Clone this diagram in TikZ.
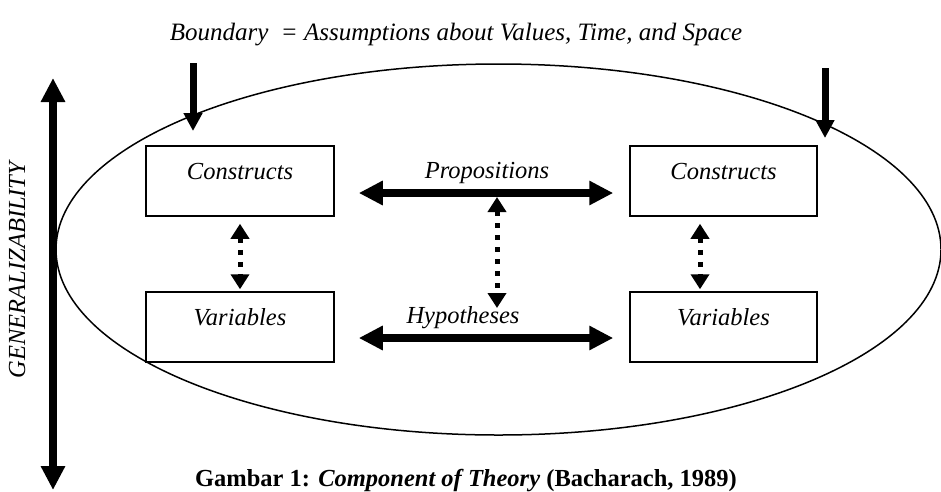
\documentclass[tikz,border=0pt]{standalone}
\usepackage{fontspec}
\setmainfont{Liberation Serif}
\usetikzlibrary{arrows.meta,calc}
\begin{document}
\begin{tikzpicture}[x=1pt,y=-1pt,
  every node/.style={font=\fontsize{24.5}{29}\selectfont},
  lbl/.style={anchor=base,font=\fontsize{24.5}{29}\selectfont\itshape},
  box/.style={draw,line width=1.5pt,minimum width=188pt,minimum height=70pt,inner sep=0pt,
    text height=18pt,text depth=21pt,font=\fontsize{24.5}{29}\selectfont\itshape},
  bigarrow/.style={line width=7.5pt,{Triangle[width=23pt,length=24pt]}-{Triangle[width=23pt,length=24pt]}},
  downarrow/.style={line width=7pt,-{Triangle[width=18pt,length=18pt]}},
  dotarrow/.style={line width=5pt,dash pattern=on 5pt off 7pt,
    {Triangle[width=18pt,length=15pt]}-{Triangle[width=18pt,length=15pt]}},
]
\useasboundingbox (0,0) rectangle (941,491);

% boundary ellipse
\draw[line width=1.5pt] (498.5,249.5) ellipse [x radius=442.5, y radius=185.5];

% boxes
\node[box] (c1) at (240,181) {Constructs};
\node[box] (v1) at (240,327) {Variables};
\node[box,minimum width=187pt] (c2) at (723.5,181) {Constructs};
\node[box,minimum width=187pt] (v2) at (723.5,327) {Variables};

% labels
\node[lbl] (prop) at (487,178) {Propositions};
\node[lbl] (hyp) at (463,323) {Hypotheses};

% thick two-headed arrows
\draw[bigarrow,shorten <=24pt,shorten >=16pt] ([yshift=-12pt]c1.east) -- ([yshift=-12pt]c2.west);
\draw[bigarrow,shorten <=24pt,shorten >=16pt] ([yshift=-11pt]v1.east) -- ([yshift=-11pt]v2.west);

% dotted arrows
\draw[dotarrow,shorten <=7pt,shorten >=2pt] (c1.south) -- (v1.north);
\draw[dotarrow,shorten <=7pt,shorten >=2pt] ([xshift=-23.5pt]c2.south) -- ([xshift=-23.5pt]v2.north);
\coordinate (mt) at (497,197);
\coordinate (mb) at (497,308);
\draw[dotarrow] (mt) -- (mb);

% boundary arrows
\coordinate (d1s) at (193,63);
\coordinate (d1e) at (193,131);
\coordinate (d2s) at (825,68);
\coordinate (d2e) at (825,138);
\draw[downarrow] (d1s) -- (d1e);
\draw[downarrow] (d2s) -- (d2e);

% generalizability
\coordinate (gt) at (53,78);
\coordinate (gb) at (53,490);
\draw[bigarrow,line width=8pt] (gb) -- (gt);
\node[rotate=90,font=\fontsize{24.5}{29}\selectfont\itshape] (gen) at (17,270) {GENERALIZABILITY};

% title and caption
\node[anchor=base,font=\fontsize{25}{30}\selectfont\itshape] (title) at (456,40) {Boundary\ \ = Assumptions about Values, Time, and Space};
\node[anchor=base,font=\fontsize{24.5}{29}\selectfont\bfseries] (cap) at (466,486) {Gambar 1: \textit{Component of Theory} (Bacharach, 1989)};
\end{tikzpicture}
\end{document}
